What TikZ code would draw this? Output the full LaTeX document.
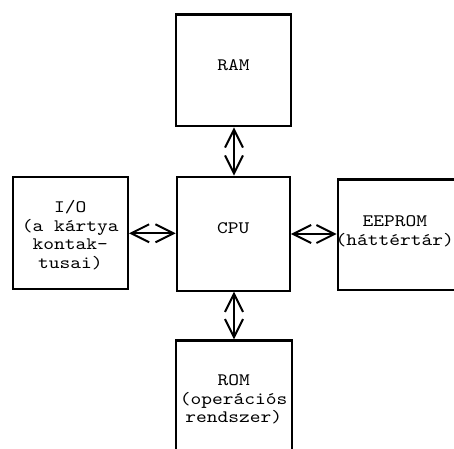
\documentclass[tikz,border=0pt]{standalone}
\usepackage{fontspec}
\newfontfamily\cardfont{lmmono10-regular.otf}[FakeStretch=1.17]
\usetikzlibrary{arrows.meta}
\tikzset{
  x=1pt, y=-1pt,
  cardtext/.style={font=\cardfont\fontsize{17.5}{18.5}\selectfont, align=center, inner sep=0pt},
  unit/.style={draw, line width=2.2pt, inner sep=0pt},
  barb/.tip={Straight Barb[length=18pt,width=18pt]},
  link/.style={line width=2pt, {barb}-{barb}}
}
\begin{document}
\begin{tikzpicture}
\useasboundingbox (0,0) rectangle (454,448);
\clip (0,0) rectangle (454,448);
% blocks of the chip card, each with its caption
\node[unit, minimum width=115.4pt, minimum height=111.8pt,
  label={[cardtext, yshift=5.6pt]center:RAM}] (ram) at (233.5,70.3) {};
\node[unit, minimum width=113pt, minimum height=113.8pt,
  label={[cardtext, yshift=5.75pt]center:CPU}] (cpu) at (233.3,233.7) {};
\node[unit, minimum width=115pt, minimum height=111.8pt,
  label={[cardtext, yshift=-2.4pt]center:{I/O\\(a kártya\\kontak-\\tusai)}}] (io) at (70.3,232.7) {};
\node[unit, minimum width=120pt, minimum height=110.2pt,
  label={[cardtext, yshift=3.4pt, xshift=-3pt]center:{EEPROM\\(háttértár)}}] (eeprom) at (397.8,234.5) {};
\node[unit, minimum width=115.8pt, minimum height=115pt,
  label={[cardtext, yshift=-1.45pt]center:{ROM\\(operációs\\rendszer)}}] (rom) at (233.7,397.9) {};
% bus lines
\coordinate (vbus) at (234,0);
\coordinate (lbus) at (0,233.3);
\coordinate (rbus) at (0,234);
\draw[link] (ram.south -| vbus) -- (cpu.north -| vbus);
\draw[link] (cpu.south -| vbus) -- (rom.north -| vbus);
\draw[link] (io.east |- lbus) -- (cpu.west |- lbus);
\draw[link] (cpu.east |- rbus) -- (eeprom.west |- rbus);
\end{tikzpicture}
\end{document}
